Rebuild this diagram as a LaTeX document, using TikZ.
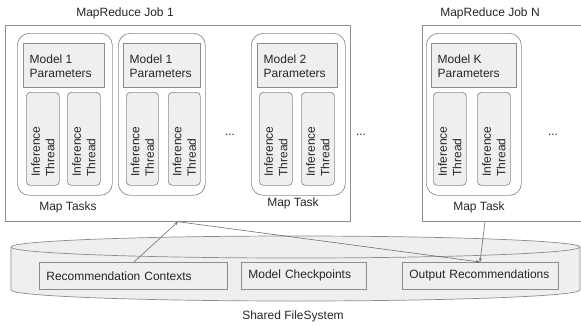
\documentclass[tikz,border=0pt]{standalone}
\usepackage{fontspec}
\setmainfont{Liberation Sans}
\usetikzlibrary{arrows.meta}
\definecolor{bd}{HTML}{8C8C8C}
\definecolor{gf}{HTML}{EFEFEF}
\definecolor{txt}{HTML}{262626}
\begin{document}
\begin{tikzpicture}[x=1pt,y=-1pt,
  every node/.style={font=\fontsize{12}{14.5}\selectfont, text=txt},
  jobbox/.style={draw=bd, line width=0.7pt, rectangle, inner sep=0, anchor=north west},
  taskbox/.style={draw=bd, line width=0.7pt, rounded corners=12pt, fill=white, anchor=north west, inner sep=0},
  parambox/.style={draw=bd, line width=0.7pt, fill=gf, anchor=north west, inner sep=0},
  threadbox/.style={draw=bd, line width=0.7pt, fill=gf, rounded corners=4pt, anchor=north west, inner sep=0},
  threadtext/.style={rotate=90, anchor=west, align=left, inner sep=0},
  fsbox/.style={draw=bd, line width=0.7pt, fill=gf, anchor=north west, inner xsep=7pt, inner ysep=0, minimum height=27, align=left},
  arr/.style={draw=bd!80!black, line width=0.6pt, -{Stealth[length=4pt,width=3pt]}}
]
\useasboundingbox (0,0) rectangle (581,325);
\clip (0,0) rectangle (581,325);

% shared file system cylinder
\fill[gf] (11,247) -- (11,290) arc (180:360:284.5pt and 11pt) -- (580,247) arc (0:180:284.5pt and 11pt) -- cycle;
\draw[bd, line width=0.7pt] (11,247) -- (11,290) arc (180:360:284.5pt and 11pt) -- (580,247) arc (0:180:284.5pt and 11pt) -- cycle;
\draw[bd, line width=0.7pt] (11,247) arc (180:360:284.5pt and 11pt);
\node (fs) at (293,316) {Shared FileSystem};

\node[fsbox, text width=174] (rc) at (39,262) {Recommendation Contexts};
\node[fsbox, text width=111] (mc) at (241,262) {Model Checkpoints};
\node[fsbox, text width=142] (orc) at (402,262) {Output Recommendations};

% jobs
\node (j1l) at (125,13) {MapReduce Job 1};
\node (jNl) at (490,13) {MapReduce Job N};
\node[jobbox, minimum width=345, minimum height=196] (job1) at (5,25) {};
\node[jobbox, minimum width=240, minimum height=196] (jobN) at (422,25) {};

\newcommand\mtask[9]{%
  \node[taskbox, minimum width=#3-#2, minimum height=162] (#1) at (#2,33) {};
  \node[parambox, minimum width=#5-#4, minimum height=44] (#1p) at (#4,43) {};
  \node[anchor=north west, align=left, inner sep=0] (#1pt) at ([xshift=6.5pt,yshift=-11.3pt]#1p.north west) {Model #9\\Parameters};
  \node[threadbox, minimum width=#8, minimum height=93] (#1a) at (#6,92) {};
  \node[threadtext] (#1at) at ([yshift=9pt]#1a.south) {Inference\\Thread};
  \node[threadbox, minimum width=#8, minimum height=93] (#1b) at (#7,92) {};
  \node[threadtext] (#1bt) at ([yshift=9pt]#1b.south) {Inference\\Thread};
}
\mtask{ta}{17}{112}{23}{104}{26}{67}{33}{1}
\mtask{tb}{118}{205}{123}{200}{126}{168}{32}{1}
\mtask{tc}{251}{345}{257}{337}{259}{301}{33}{2}
\mtask{tk}{426}{521}{431}{516}{433}{477}{33}{K}

\node (d1) at (230,135) {...};
\node (d2) at (361,135) {...};
\node (d3) at (553,135) {...};

\node (mt1) at (68,207) {Map Tasks};
\node (mt2) at (293,203) {Map Task};
\node (mt3) at (479,207) {Map Task};

% connectors
\draw[arr] ([xshift=95pt]rc.north west) -- ([xshift=173pt]job1.south west);
\draw[arr] ([xshift=173pt]job1.south west) -- ([xshift=78pt]orc.north west);
\draw[arr] ([xshift=63pt]jobN.south west) -- ([xshift=78pt]orc.north west);
\end{tikzpicture}
\end{document}
